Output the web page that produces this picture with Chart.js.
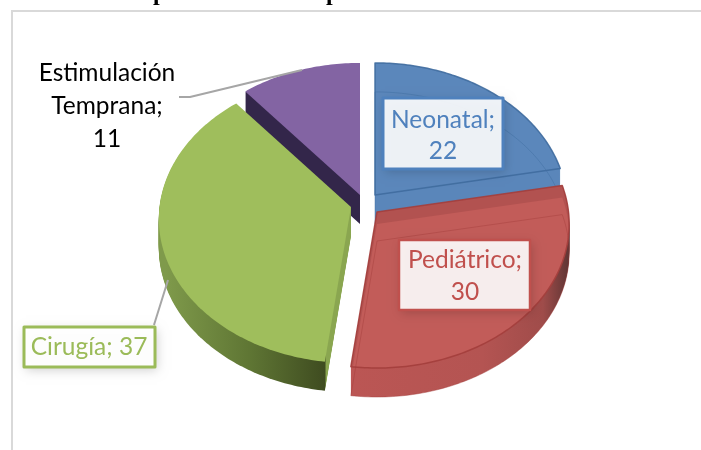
<!DOCTYPE html>
<html>
<head>
<meta charset="utf-8">
<title>Pie</title>
<script src="https://cdn.jsdelivr.net/npm/chart.js@4/dist/chart.umd.min.js"></script>
<style>
  html, body { margin: 0; background: #fff; overflow: hidden; }
  #wrap { width: 701px; height: 450px; }
</style>
</head>
<body>
<div id="wrap"><canvas id="pie" width="701" height="450"></canvas></div>
<script>
// data
var categories = ["Neonatal", "Pediátrico", "Cirugía", "Estimulación Temprana"];
var values = [22, 30, 37, 11];
var topColors = ["#5b87bb", "#c25c59", "#9fbe5c", "#8364a3"];
var textColors = ["#4f81bd", "#c0504d", "#9bbb59", "#000000"];
// the title is cut off by the top of the picture, only the feet of two p are left
var titleLetters = ["p", "p"];
var titleLetterX = [153, 326];

// look of the slices (apex = where the exploded slice ends up on screen)
var apexes = [[375, 195], [377, 212], [351, 207], [360, 195]];
var wallStops = [
    [[0, "#5a86ba"], [1, "#5a86ba"]],
    [[0, "#bb5654"], [0.6, "#b45452"], [0.88, "#a04c4a"], [1, "#5f3534"]],
    [[0, "#7f9a4b"], [0.45, "#5f7634"], [0.855, "#3f4c20"], [0.862, "#8aa650"], [1, "#8aa650"]],
    [[0, "#33264a"], [1, "#33264a"]]
];
var wallRange = [[375, 560], [352, 569], [165, 352], [247, 360]];
var rimColors = ["#3f6c9f", "#a33e3c", null, null];
var drawOrder = [3, 2, 0, 1];
var depth = 29;
var tilt = 0.753, persp = 0.000437, widen = 1.008;

var labelBoxes = [
    { x: 383, y: 98, w: 120, h: 71, cx: 443, lines: [120, 151], border: 3, fill: "rgba(255,255,255,0.9)", split: false },
    { x: 399, y: 240, w: 131, h: 70, cx: 465, lines: [260, 292], border: 2.5, fill: "rgba(255,255,255,0.9)", split: false },
    { x: 24, y: 327, w: 131, h: 40, cx: 89, lines: [347], border: 3, fill: "rgba(255,255,255,0.95)", oneLine: true },
    { cx: 107, lines: [73, 106, 139], split: true }
];
var leaders = [
    [[302, 70], [190, 97], [179, 97]],
    [[168, 280], [154, 325]]
];

function project(a, R, i, dy) {
    var u = R * Math.cos(a), v = R * Math.sin(a);
    var s = 1 / (1 - persp * v);
    return [apexes[i][0] + widen * u * s, apexes[i][1] + tilt * v * s + dy];
}

// slice outline from the angles Chart.js worked out for the arc element
function slicePath(ctx, el, i, dy) {
    var p = el.getProps(["startAngle", "endAngle", "outerRadius"], true);
    var n = Math.ceil((p.endAngle - p.startAngle) * 60);
    ctx.beginPath();
    ctx.moveTo(apexes[i][0], apexes[i][1] + dy);
    for (var k = 0; k <= n; k++) {
        var pt = project(p.startAngle + (p.endAngle - p.startAngle) * k / n, p.outerRadius, i, dy);
        ctx.lineTo(pt[0], pt[1]);
    }
    ctx.closePath();
}

function drawSlice(ctx, el, i) {
    var g = ctx.createLinearGradient(wallRange[i][0], 0, wallRange[i][1], 0);
    wallStops[i].forEach(function (s) { g.addColorStop(s[0], s[1]); });
    ctx.fillStyle = g;
    for (var d = depth; d > 0; d--) {
        slicePath(ctx, el, i, d);
        ctx.fill();
    }
    slicePath(ctx, el, i, 0);
    ctx.fillStyle = el.options.backgroundColor;
    ctx.fill();
    if (i === 1) {
        // darker band at the back of the red slice
        ctx.save();
        slicePath(ctx, el, i, 0);
        ctx.clip();
        ctx.fillStyle = "#b25250";
        ctx.fill();
        slicePath(ctx, el, i, 12);
        ctx.fillStyle = el.options.backgroundColor;
        ctx.fill();
        ctx.restore();
    }
    if (rimColors[i]) {
        ctx.lineJoin = "round";
        ctx.strokeStyle = rimColors[i];
        ctx.globalAlpha = 0.45;
        ctx.lineWidth = 1;
        slicePath(ctx, el, i, depth);
        ctx.stroke();
        ctx.globalAlpha = 0.9;
        ctx.lineWidth = 1.5;
        slicePath(ctx, el, i, 0);
        ctx.stroke();
        ctx.globalAlpha = 1;
    }
}

function drawLabels(ctx) {
    ctx.textAlign = "center";
    ctx.textBaseline = "middle";
    ctx.font = "24.5px Lato";
    labelBoxes.forEach(function (b, i) {
        if (b.w) {
            ctx.save();
            ctx.shadowColor = "rgba(0,0,0,0.2)";
            ctx.shadowBlur = 10;
            ctx.shadowOffsetX = 2;
            ctx.shadowOffsetY = 3;
            ctx.fillStyle = b.fill;
            ctx.fillRect(b.x, b.y, b.w, b.h);
            ctx.restore();
            ctx.strokeStyle = textColors[i];
            ctx.lineWidth = b.border;
            ctx.strokeRect(b.x, b.y, b.w, b.h);
        }
        var txt;
        if (b.oneLine) txt = [categories[i] + "; " + values[i]];
        else if (b.split) txt = categories[i].split(" ");
        else txt = [categories[i]];
        if (!b.oneLine) {
            txt[txt.length - 1] += ";";
            txt.push(String(values[i]));
        }
        ctx.fillStyle = textColors[i];
        txt.forEach(function (t, k) { ctx.fillText(t, b.cx, b.lines[k]); });
    });
}

var pie3d = {
    id: "pie3d",
    beforeDatasetsDraw: function (chart) {
        var ctx = chart.ctx, arcs = chart.getDatasetMeta(0).data;
        ctx.save();
        // frame of the cut out picture
        ctx.strokeStyle = "#d9d9d9";
        ctx.lineWidth = 2;
        ctx.beginPath();
        ctx.moveTo(701, 11);
        ctx.lineTo(12, 11);
        ctx.lineTo(12, 450);
        ctx.stroke();
        ctx.fillStyle = "#000";
        ctx.font = "bold 24px 'Liberation Serif'";
        ctx.textAlign = "left";
        ctx.textBaseline = "alphabetic";
        titleLetters.forEach(function (t, i) { ctx.fillText(t, titleLetterX[i], 0); });
        drawOrder.forEach(function (i) { drawSlice(ctx, arcs[i], i); });
        ctx.strokeStyle = "#a6a6a6";
        ctx.lineWidth = 2;
        leaders.forEach(function (l) {
            ctx.beginPath();
            l.forEach(function (p, k) { k ? ctx.lineTo(p[0], p[1]) : ctx.moveTo(p[0], p[1]); });
            ctx.stroke();
        });
        drawLabels(ctx);
        ctx.restore();
        return false;
    }
};

new Chart(document.getElementById("pie"), {
    type: "pie",
    data: {
        labels: categories,
        datasets: [{ data: values, backgroundColor: topColors, borderWidth: 0, radius: 190 }]
    },
    options: {
        responsive: false,
        animation: false,
        plugins: { legend: { display: false }, tooltip: { enabled: false } }
    },
    plugins: [pie3d]
});
</script>
</body>
</html>
